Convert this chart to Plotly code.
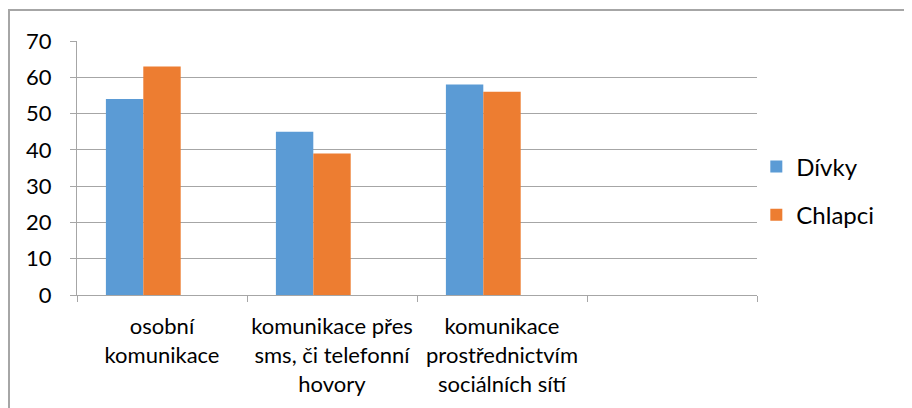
import plotly.graph_objects as go

# Kategorie a hodnoty
kategorie = ["osobní<br>komunikace",
             "komunikace přes<br>sms, či telefonní<br>hovory",
             "komunikace<br>prostřednictvím<br>sociálních sítí",
             " "]
divky = [54, 45, 58, None]
chlapci = [63, 39, 56, None]

seda = "#A6A6A6"
pismo = dict(family="Lato, Open Sans, sans-serif", size=22, color="#000000")

fig = go.Figure()

fig.add_trace(go.Bar(
    x=kategorie, y=divky, name="Dívky",
    marker=dict(color="#5B9BD5", line=dict(width=0)),
    width=0.22, offset=-0.33, legendgroup="a"
))
fig.add_trace(go.Bar(
    x=kategorie, y=chlapci, name="Chlapci",
    marker=dict(color="#ED7D31", line=dict(width=0)),
    width=0.22, offset=-0.11, legendgroup="b"
))

# Rámeček grafu
fig.add_shape(type="rect", xref="paper", yref="paper",
              x0=-0.1, x1=1.3, y0=-0.6, y1=1.122,
              line=dict(color=seda, width=2), layer="below")

fig.update_layout(
    width=904, height=400,
    margin=dict(l=69, r=155, t=33, b=113),
    paper_bgcolor="white", plot_bgcolor="white",
    font=pismo,
    showlegend=True,
    legend=dict(x=0.999, xanchor="left", y=0.41, yanchor="middle",
                tracegroupgap=14, font=dict(pismo, size=24),
                bgcolor="rgba(0,0,0,0)"),
    xaxis=dict(
        type="category", categoryorder="array", categoryarray=kategorie,
        range=[-0.5, 3.5], tickson="boundaries", ticks="outside",
        ticklen=6, tickcolor=seda, showline=True, linecolor=seda,
        linewidth=1, showgrid=False, tickangle=0, ticklabelstandoff=12,
    ),
    yaxis=dict(
        range=[0, 70], dtick=10, ticks="outside", ticklen=6,
        tickcolor=seda, showline=True, linecolor=seda, linewidth=1,
        showgrid=True, gridcolor=seda, gridwidth=1, zeroline=False,
        ticklabelstandoff=14,
    ),
)

fig.write_html("out.html")
